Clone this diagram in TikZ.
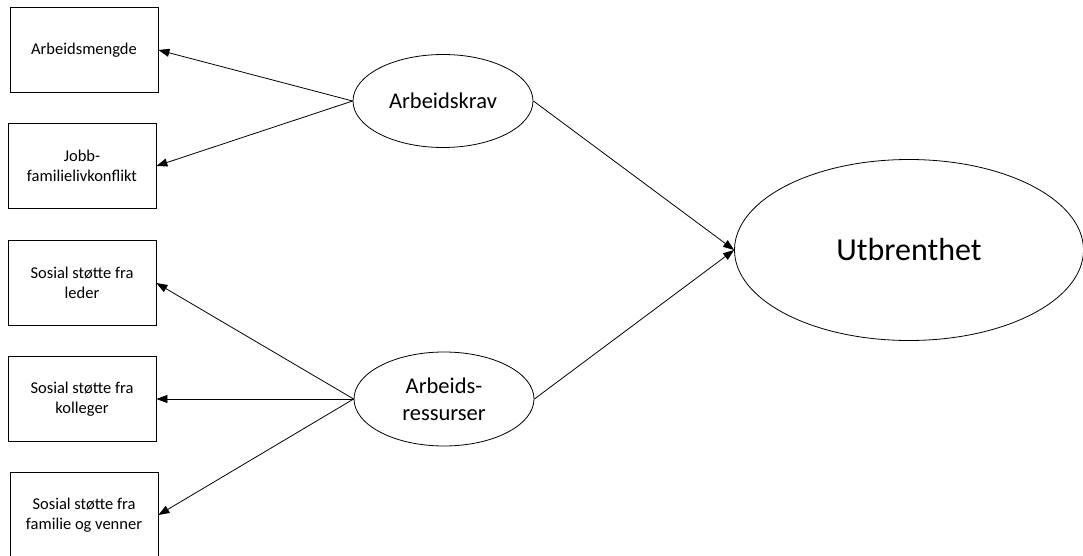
\documentclass[tikz,border=0pt]{standalone}
\usepackage{fontspec}
\setmainfont{Carlito}
\usetikzlibrary{shapes.geometric,arrows.meta}
\begin{document}
\begin{tikzpicture}[x=1pt,y=-1pt,
  box/.style={draw, line width=0.8pt, minimum width=148pt, minimum height=85pt,
    align=center, font=\fontsize{16.5}{20}\selectfont},
  oval/.style={draw, ellipse, line width=0.8pt, inner sep=0pt, align=center},
  pil/.style={draw, line width=0.8pt, -{Triangle[length=11pt,width=8pt]}}]
\useasboundingbox (0,0) rectangle (1083,556);
\node[box] (1) at (84,50) {Arbeidsmengde};
\node[box] (2) at (82,166) {Jobb-\\familielivkonflikt};
\node[box] (3) at (82,283) {Sosial støtte fra\\leder};
\node[box] (4) at (82,399) {Sosial støtte fra\\kolleger};
\node[box] (5) at (84,515) {Sosial støtte fra\\familie og venner};
\node[oval, minimum width=180pt, minimum height=93pt,
  font=\fontsize{22.5}{27}\selectfont] (6) at (443,101) {Arbeidskrav};
\node[oval, minimum width=180pt, minimum height=94pt,
  font=\fontsize{22.5}{27}\selectfont] (7) at (444,399) {Arbeids-\\ressurser};
\node[oval, minimum width=349pt, minimum height=181pt,
  font=\fontsize{32}{38}\selectfont] (8) at (909,250) {Utbrenthet};
\path[pil] (6.west) -- (1.east);
\path[pil] (6.west) -- (2.east);
\path[pil] (7.west) -- (3.east);
\path[pil] (7.west) -- (4.east);
\path[pil] (7.west) -- (5.east);
\path[pil] (6.east) -- (8.west);
\path[pil] (7.east) -- (8.west);
\end{tikzpicture}
\end{document}
